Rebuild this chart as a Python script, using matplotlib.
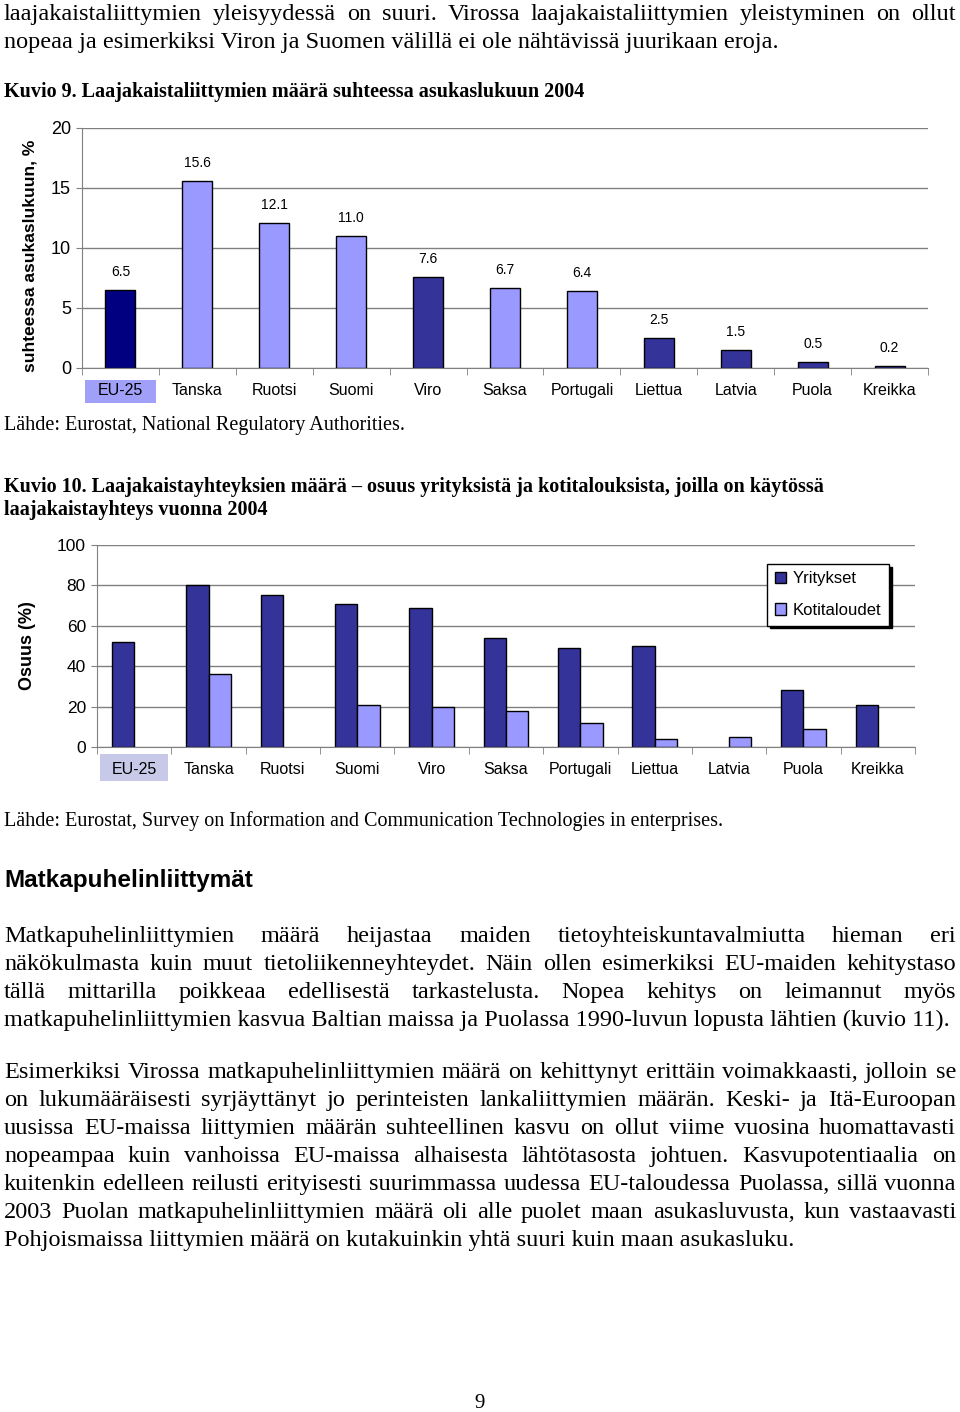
import numpy as np
import matplotlib
matplotlib.use('Agg')
from matplotlib import pyplot as plt
from matplotlib.patches import Rectangle
from matplotlib.transforms import blended_transform_factory

# Kuvio 9: laajakaistaliittymat suhteessa asukaslukuun 2004, %
maat = ['EU-25', 'Tanska', 'Ruotsi', 'Suomi', 'Viro', 'Saksa', 'Portugali',
        'Liettua', 'Latvia', 'Puola', 'Kreikka']
liittymat = [6.5, 15.6, 12.1, 11.0, 7.6, 6.7, 6.4, 2.5, 1.5, 0.5, 0.2]

# Kuvio 10: osuus (%) yrityksista ja kotitalouksista
yritykset = [52, 80, 75, 71, 69, 54, 49, 50, np.nan, 28, 21]
kotitaloudet = [np.nan, 36, np.nan, 21, 20, 18, 12, 4, 5, 9, np.nan]

W, H = 960, 1412
NAVY, MID, LIGHT = '#000080', '#333399', '#9999ff'
bar_colors = [NAVY, LIGHT, LIGHT, LIGHT, MID, LIGHT, LIGHT, MID, MID, MID, MID]
SERIF = 'Liberation Serif'
SANS = 'Liberation Sans'
BODY = 17.5

plt.rcParams['font.family'] = SANS

fig = plt.figure(figsize=(W / 100, H / 100), dpi=100)
renderer = fig.canvas.get_renderer()


def fy(y):
    return 1 - y / H


def box(l, t, r, b):
    return [l / W, 1 - b / H, (r - l) / W, (b - t) / H]


def line(txt, y, size=BODY, weight='normal', family=SERIF, x=4):
    return fig.text(x / W, fy(y), txt, fontsize=size, fontweight=weight,
                    family=family, va='baseline', ha='left')


def justified(txt, y, size=BODY, x0=4, x1=956):
    words = txt.split()
    arts = [line(w, y, size) for w in words]
    widths = [a.get_window_extent(renderer).width for a in arts]
    gap = (x1 - x0 - sum(widths)) / (len(words) - 1)
    x = x0
    for a, w in zip(arts, widths):
        a.set_x(x / W)
        x += w + gap


def paragraph(lines, y0, step=28):
    for i, l in enumerate(lines):
        if i < len(lines) - 1:
            justified(l, y0 + i * step)
        else:
            line(l, y0 + i * step)


def style(ax, ymax, step):
    n = len(maat)
    ax.set_xlim(-0.5, n - 0.5)
    ax.set_ylim(0, ymax)
    ax.set_yticks(np.arange(0, ymax + 1, step))
    ax.yaxis.grid(True, color='#808080', lw=1)
    ax.set_axisbelow(True)
    for s in ['top', 'right']:
        ax.spines[s].set_visible(False)
    for s in ['left', 'bottom']:
        ax.spines[s].set_color('#808080')
    ax.set_xticks(range(n))
    ax.set_xticklabels(maat, fontsize=11.5)
    ax.set_xticks(np.arange(-0.5, n), minor=True)
    ax.tick_params(axis='x', which='major', length=0, pad=11)
    ax.tick_params(axis='x', which='minor', length=5, color='#808080')
    ax.tick_params(axis='y', length=4, color='#808080', labelsize=13, pad=4)


def label_bg(ax, top, bottom, color):
    tr = blended_transform_factory(ax.transData, fig.transFigure)
    ax.add_patch(Rectangle((-0.46, fy(bottom)), 0.92, (bottom - top) / H,
                           transform=tr, clip_on=False, facecolor=color,
                           edgecolor='none', zorder=0))


# --- text above chart 1
paragraph(['laajakaistaliittymien yleisyydessä on suuri. Virossa laajakaistaliittymien yleistyminen on ollut',
           'nopeaa ja esimerkiksi Viron ja Suomen välillä ei ole nähtävissä juurikaan eroja.'], 20)
line('Kuvio 9. Laajakaistaliittymien määrä suhteessa asukaslukuun 2004', 97, size=14.5, weight='bold')

# --- chart 1
ax1 = fig.add_axes(box(82, 128, 928, 368))
style(ax1, 20, 5)
x = np.arange(len(maat))
ax1.bar(x, liittymat, width=0.39, color=bar_colors, edgecolor='black', lw=1)
for i, v in enumerate(liittymat):
    ax1.text(i, v + 0.9, f'{v:.1f}', ha='center', va='bottom', fontsize=10)
label_bg(ax1, 380, 403, '#a0a0f8')
fig.text(30 / W, fy(256), 'suhteessa asukaslukuun, %', rotation=90, fontsize=12.5,
         fontweight='bold', ha='center', va='center')

line('Lähde: Eurostat, National Regulatory Authorities.', 430, size=14.5)
line('Kuvio 10. Laajakaistayhteyksien määrä – osuus yrityksistä ja kotitalouksista, joilla on käytössä',
     492, size=14.5, weight='bold')
line('laajakaistayhteys vuonna 2004', 515, size=14.5, weight='bold')

# --- chart 2
ax2 = fig.add_axes(box(97, 545, 915, 747))
style(ax2, 100, 20)
ax2.tick_params(axis='y', labelsize=12.5)
ax2.bar(x - 0.15, yritykset, width=0.3, color=MID, edgecolor='black', lw=1, label='Yritykset')
ax2.bar(x + 0.15, kotitaloudet, width=0.3, color=LIGHT, edgecolor='black', lw=1, label='Kotitaloudet')
label_bg(ax2, 754, 781, '#c8c8e8')
leg = ax2.legend(loc='upper left', bbox_to_anchor=((767 - 97) / 818, (747 - 564) / 202),
                 borderaxespad=0, fancybox=False, shadow={'color': 'black', 'alpha': 1},
                 fontsize=12, handlelength=0.7, handleheight=0.7, handletextpad=0.4,
                 labelspacing=1.0, borderpad=0.45, framealpha=1)
leg.get_frame().set_edgecolor('black')
leg.get_frame().set_linewidth(1)
fig.text(28 / W, fy(646), 'Osuus (%)', rotation=90, fontsize=13,
         fontweight='bold', ha='center', va='center')

line('Lähde: Eurostat, Survey on Information and Communication Technologies in enterprises.', 826, size=14.5)

# --- body text
line('Matkapuhelinliittymät', 887, size=17.5, weight='bold', family=SANS)
paragraph(['Matkapuhelinliittymien määrä heijastaa maiden tietoyhteiskuntavalmiutta hieman eri',
           'näkökulmasta kuin muut tietoliikenneyhteydet. Näin ollen esimerkiksi EU-maiden kehitystaso',
           'tällä mittarilla poikkeaa edellisestä tarkastelusta. Nopea kehitys on leimannut myös',
           'matkapuhelinliittymien kasvua Baltian maissa ja Puolassa 1990-luvun lopusta lähtien (kuvio 11).'], 942)
paragraph(['Esimerkiksi Virossa matkapuhelinliittymien määrä on kehittynyt erittäin voimakkaasti, jolloin se',
           'on lukumääräisesti syrjäyttänyt jo perinteisten lankaliittymien määrän. Keski- ja Itä-Euroopan',
           'uusissa EU-maissa liittymien määrän suhteellinen kasvu on ollut viime vuosina huomattavasti',
           'nopeampaa kuin vanhoissa EU-maissa alhaisesta lähtötasosta johtuen. Kasvupotentiaalia on',
           'kuitenkin edelleen reilusti erityisesti suurimmassa uudessa EU-taloudessa Puolassa, sillä vuonna',
           '2003 Puolan matkapuhelinliittymien määrä oli alle puolet maan asukasluvusta, kun vastaavasti',
           'Pohjoismaissa liittymien määrä on kutakuinkin yhtä suuri kuin maan asukasluku.'], 1078)

fig.text(480 / W, fy(1408), '9', fontsize=15, family=SERIF, ha='center', va='baseline')

fig.savefig('out.png', dpi=100)
